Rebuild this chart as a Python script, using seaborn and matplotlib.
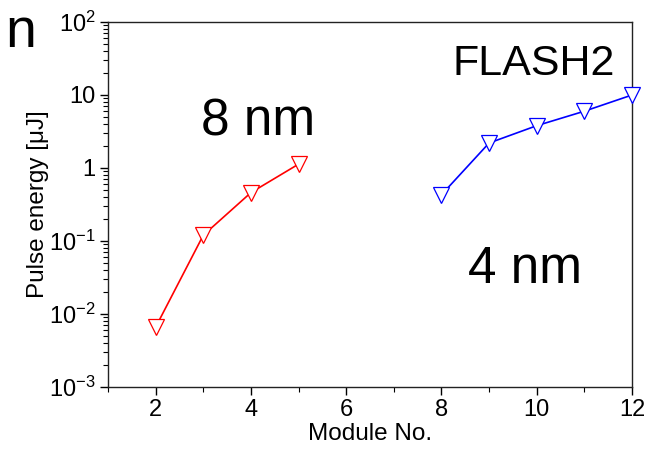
import numpy as np
import pandas as pd
import matplotlib
matplotlib.use("Agg")
import matplotlib.pyplot as plt
import seaborn as sns
from matplotlib.ticker import FixedLocator, FixedFormatter, LogLocator, NullFormatter, MultipleLocator

# Data
modules_8nm = [2, 3, 4, 5]
energy_8nm = [0.0066, 0.12, 0.46, 1.13]
modules_4nm = [8, 9, 10, 11, 12]
energy_4nm = [0.43, 2.2, 3.8, 6.0, 10.0]
x_ticks = [2, 4, 6, 8, 10, 12]
y_ticks = [1e-3, 1e-2, 1e-1, 1, 10, 100]
y_tick_labels = [r"$10^{-3}$", r"$10^{-2}$", r"$10^{-1}$", "1", "10", r"$10^{2}$"]

sns.set_theme(style="ticks")
plt.rcParams["font.family"] = ["Liberation Sans", "DejaVu Sans"]
plt.rcParams["mathtext.fontset"] = "custom"
plt.rcParams["mathtext.rm"] = "Liberation Sans"
plt.rcParams["mathtext.it"] = "Liberation Sans:italic"
plt.rcParams["mathtext.bf"] = "Liberation Sans:bold"
plt.rcParams["text.color"] = "black"
plt.rcParams["axes.labelcolor"] = "black"
plt.rcParams["xtick.color"] = "black"
plt.rcParams["ytick.color"] = "black"

fig = plt.figure(figsize=(6.56, 4.5), dpi=100)
ax = fig.add_axes([108 / 656, 1 - 387 / 450, (632 - 108) / 656, (387 - 22) / 450])

df8 = pd.DataFrame({"module": modules_8nm, "energy": energy_8nm})
df4 = pd.DataFrame({"module": modules_4nm, "energy": energy_4nm})

common = dict(marker="v", markersize=11, markerfacecolor="white", markeredgewidth=0.9,
              linewidth=1.2, clip_on=False, zorder=3)
sns.lineplot(data=df8, x="module", y="energy", ax=ax, color="#FF0000",
             markeredgecolor="#FF0000", **common)
sns.lineplot(data=df4, x="module", y="energy", ax=ax, color="#0000FF",
             markeredgecolor="#0000FF", **common)

ax.set_yscale("log")
ax.set_xlim(1, 12)
ax.set_ylim(1e-3, 1e2)

ax.xaxis.set_major_locator(FixedLocator(x_ticks))
ax.xaxis.set_minor_locator(MultipleLocator(1))
ax.yaxis.set_major_locator(FixedLocator(y_ticks))
ax.yaxis.set_major_formatter(FixedFormatter(y_tick_labels))
ax.yaxis.set_minor_locator(LogLocator(base=10, subs=np.arange(2, 10), numticks=20))
ax.yaxis.set_minor_formatter(NullFormatter())

ax.tick_params(axis="both", which="major", direction="out", length=6, width=1.0,
               labelsize=17, colors="black", pad=3)
ax.tick_params(axis="both", which="minor", direction="out", length=3.5, width=0.8)
ax.tick_params(top=False, right=False, which="both")

for s in ax.spines.values():
    s.set_color("#222222")
    s.set_linewidth(1.0)
    s.set_visible(True)

ax.set_xlabel("Module No.", fontsize=17.5, labelpad=1, color="black")
ax.set_ylabel("Pulse energy [μJ]", fontsize=17.5, labelpad=0, color="black")
ax.grid(False)

fig.text(615 / 656, 1 - 75 / 450, "FLASH2", fontsize=31, ha="right", va="baseline", color="black")
fig.text(258 / 656, 1 - 135 / 450, "8 nm", fontsize=37, ha="center", va="baseline", color="black")
fig.text(525 / 656, 1 - 283 / 450, "4 nm", fontsize=37, ha="center", va="baseline", color="black")
fig.text(36 / 656, 1 - 47 / 450, "n", fontsize=40, ha="right", va="baseline", color="black")

fig.savefig("out.png", dpi=100)
